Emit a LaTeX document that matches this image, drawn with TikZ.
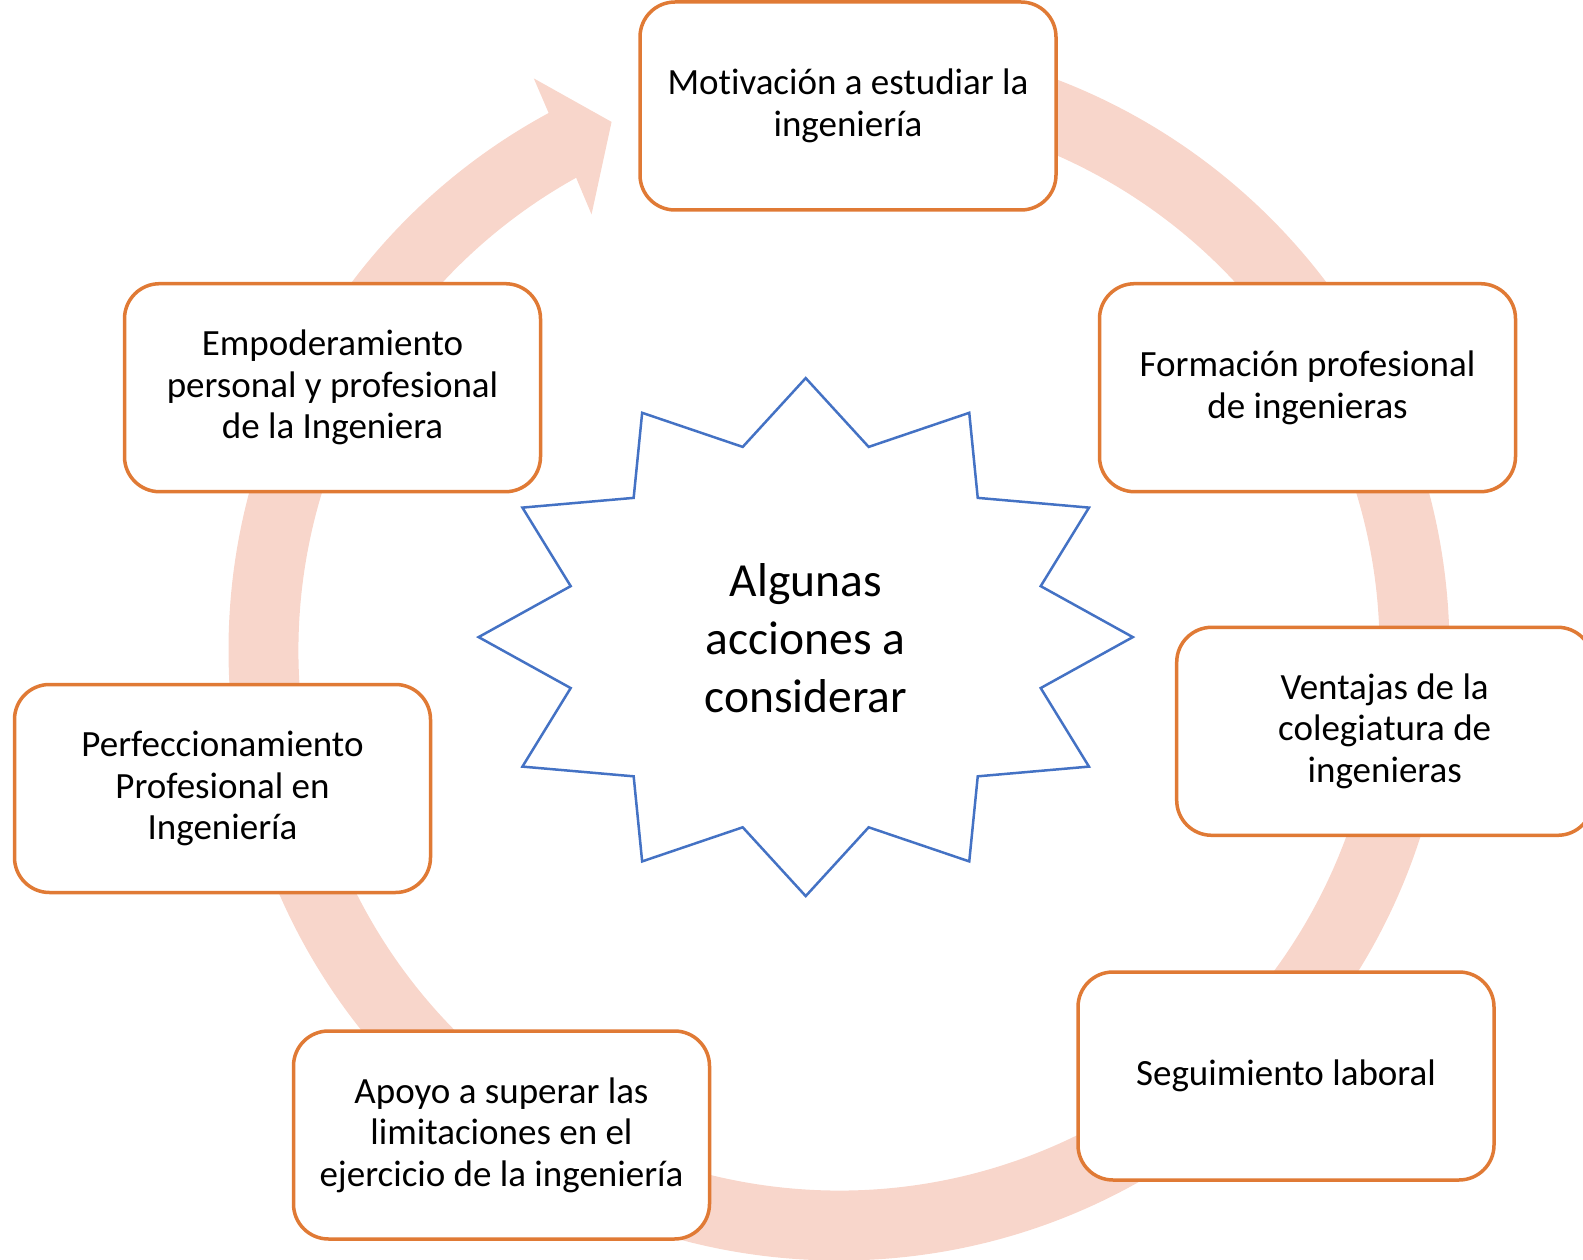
\documentclass[tikz,border=0pt]{standalone}
\usepackage{fontspec}
\setmainfont[Ligatures=NoCommon]{Carlito}
\usetikzlibrary{calc}
\definecolor{ringc}{HTML}{F8D6CB}
\definecolor{boxc}{HTML}{E07A35}
\definecolor{starc}{HTML}{4472C4}
\tikzset{
  stepbox/.style={draw=boxc, line width=3.5pt, fill=white, rounded corners=35pt,
    minimum width=416pt, minimum height=208pt, inner sep=0pt, align=center,
    font=\fontsize{37}{41.4}\selectfont},
  centertext/.style={align=center, inner sep=0pt, font=\fontsize{47.5}{58}\selectfont},
  starline/.style={draw=starc, line width=2.5pt, line join=miter}
}
\begin{document}
\begin{tikzpicture}[x=1pt,y=1pt]
\useasboundingbox (0,0) rectangle (1583,-1260);
\coordinate (rc) at (839,-650);
% circular arrow
\fill[ringc] ($(rc)+(90:610.5)$) arc[start angle=90,end angle=-241.6,radius=610.5]
  -- ($(rc)+(118.1:648)$) -- ($(rc)+(113.3:575)$) -- ($(rc)+(119.6:501)$)
  -- ($(rc)+(119.1:540.5)$) arc[start angle=-240.9,end angle=90,radius=540.5] -- cycle;
% star
\begin{scope}[shift={(805.7,-637.1)}]
\draw[starline] (0:327.1 and 259)
  \foreach \a in {0,30,...,300}{ -- (\a+15:243.3 and 196.9) -- (\a+30:327.1 and 259)}
  -- (345:243.3 and 196.9) -- cycle;
\end{scope}
\node[centertext] (ctr) at (805.7,-638.5) {Algunas\\acciones a\\considerar};
% boxes
\node[stepbox] (b1) at (848,-106) {Motivación a estudiar la\\ingeniería};
\node[stepbox] (b2) at (1307.5,-387.7) {Formación profesional\\de ingenieras};
\node[stepbox] (b3) at (1384.7,-731.3) {Ventajas de la\\colegiatura de\\ingenieras};
\node[stepbox] (b4) at (1286,-1076) {Seguimiento laboral};
\node[stepbox] (b5) at (501.5,-1135) {Apoyo a superar las\\limitaciones en el\\ejercicio de la ingeniería};
\node[stepbox] (b6) at (222.5,-788.5) {Perfeccionamiento\\Profesional en\\Ingeniería};
\node[stepbox] (b7) at (332.5,-387.7) {Empoderamiento\\personal y profesional\\de la Ingeniera};
\end{tikzpicture}
\end{document}
